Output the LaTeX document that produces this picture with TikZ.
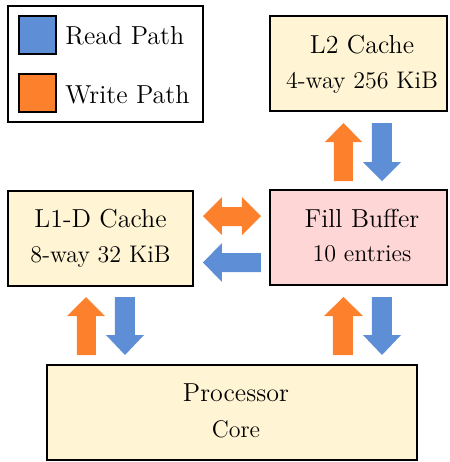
\documentclass[tikz,border=0pt]{standalone}
\usepackage{xcolor}
\definecolor{rdblue}{RGB}{94,142,213}
\definecolor{wrorange}{RGB}{253,128,44}
\definecolor{boxyellow}{RGB}{255,245,212}
\definecolor{boxpink}{RGB}{255,214,214}
\begin{document}
\begin{tikzpicture}[x=0.5pt,y=-0.5pt,
  box/.style={draw=black,line width=1pt,inner sep=0pt},
  maintxt/.style={font=\fontsize{13}{15}\selectfont,inner sep=0pt,anchor=base},
  subtxt/.style={font=\fontsize{12}{14}\selectfont,inner sep=0pt,anchor=base},
  rd/.style={fill=rdblue,draw=none},
  wr/.style={fill=wrorange,draw=none}]
\useasboundingbox (0,0) rectangle (450,462);
% legend
\draw[line width=1pt] (8,6) rectangle (203,122);
\node[box,fill=rdblue,minimum width=18.5pt,minimum height=19pt] (lgr) at (37.5,35) {};
\node[box,fill=wrorange,minimum width=18.5pt,minimum height=19pt] (lgw) at (37.5,93) {};
\node[maintxt,anchor=base west] (lgrt) at (65,44) {Read Path};
\node[maintxt,anchor=base west] (lgwt) at (65,103) {Write Path};
% boxes
\node[box,fill=boxyellow,minimum width=88.5pt,minimum height=47.5pt] (l2) at (359,63.5) {};
\node[maintxt] (l2a) at (362,53) {L2 Cache};
\node[subtxt] (l2b) at (362,88) {4-way 256 KiB};
\node[box,fill=boxpink,minimum width=88.5pt,minimum height=47.5pt] (fb) at (359,237.5) {};
\node[maintxt] (fba) at (362,227) {Fill Buffer};
\node[subtxt] (fbb) at (362,261.5) {10 entries};
\node[box,fill=boxyellow,minimum width=92.5pt,minimum height=47.5pt] (l1) at (100.5,238.5) {};
\node[maintxt] (l1a) at (100.5,227.5) {L1-D Cache};
\node[subtxt] (l1b) at (100.5,262) {8-way 32 KiB};
\node[box,fill=boxyellow,minimum width=185pt,minimum height=47.5pt] (pc) at (232,412.5) {};
\node[maintxt] (pca) at (236,401.5) {Processor};
\node[subtxt] (pcb) at (236,437) {Core};
% arrows L2 <-> FB
\fill[wr] (343.5,123) -- (362,142) -- (353,142) -- (353,181) -- (334,181) -- (334,142) -- (325,142) -- cycle;
\fill[rd] (382,181) -- (401,162) -- (392,162) -- (392,123) -- (372,123) -- (372,162) -- (363,162) -- cycle;
% arrows FB <-> L1
\fill[wr] (203,216) -- (222,197) -- (222,207) -- (242,207) -- (242,197) -- (261,216) -- (242,235) -- (242,226) -- (222,226) -- (222,235) -- cycle;
\fill[rd] (203,262.5) -- (222,243) -- (222,253) -- (261,253) -- (261,272) -- (222,272) -- (222,282) -- cycle;
% arrows L1 <-> Processor
\fill[wr] (86,297) -- (105,316) -- (96,316) -- (96,355) -- (77,355) -- (77,316) -- (67,316) -- cycle;
\fill[rd] (125,355) -- (144,335) -- (135,335) -- (135,297) -- (115,297) -- (115,335) -- (106,335) -- cycle;
% arrows FB <-> Processor
\fill[wr] (343.5,297) -- (363,316) -- (353,316) -- (353,355) -- (333,355) -- (333,316) -- (324,316) -- cycle;
\fill[rd] (382,355) -- (401,335) -- (392,335) -- (392,297) -- (372,297) -- (372,335) -- (363,335) -- cycle;
\end{tikzpicture}
\end{document}
